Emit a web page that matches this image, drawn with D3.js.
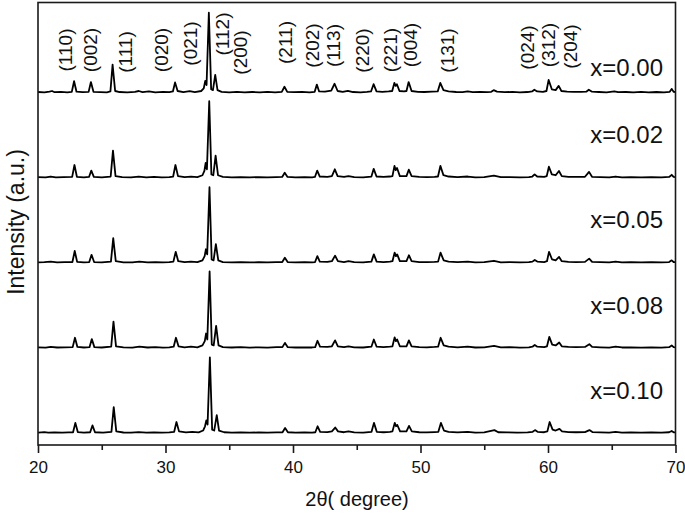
<!DOCTYPE html>
<html><head><meta charset="utf-8">
<script src="https://cdn.jsdelivr.net/npm/d3@7/dist/d3.min.js"></script>
<style>
body{margin:0;background:#fff}
text{font-family:Arial,"Liberation Sans",Helvetica,sans-serif;fill:#111}
</style>
</head><body>
<svg id="chart" width="685" height="514"></svg>
<script>
// ---------------- DATA ----------------
const sampleLabels = ["x=0.00","x=0.02","x=0.05","x=0.08","x=0.10"];
const sampleOffsets = [400,300,200,100,0];   // stacking offset (a.u.)

// XRD patterns, [2θ, intensity a.u.]
const pattern000 = [[20,0.8],[20.5,0.3],[20.9,1.2],[21.1,2],[21.3,0.6],[21.8,0.9],[22.3,0.5],[22.65,1],[22.83,13.5],[23.02,1.2],[23.5,0.6],[23.97,1],[24.15,12.5],[24.35,1],[24.9,0.7],[25.4,0.5],[25.68,1.5],[25.85,33],[26.05,2],[26.4,0.8],[27,0.4],[27.6,1],[27.9,2],[28.2,0.6],[28.7,1.5],[29.2,0.5],[29.8,0.9],[30.3,0.6],[30.58,1.5],[30.75,12],[30.95,2],[31.4,0.8],[31.9,1.8],[32.3,0.7],[32.8,2],[33.0,5],[33.12,14],[33.22,9],[33.4,94],[33.58,4],[33.72,3],[33.9,21],[34.08,3],[34.4,1],[35,0.5],[35.6,0.9],[36.2,0.4],[36.8,0.8],[37.4,0.5],[38,0.9],[38.6,0.4],[39.12,1],[39.33,7],[39.55,1],[40.1,0.6],[40.7,0.9],[41.3,0.5],[41.7,1],[41.87,9.5],[42.05,1.5],[42.5,1.2],[43.0,2.5],[43.26,10.5],[43.5,2],[43.9,1],[44.3,2.2],[44.7,0.8],[45.3,0.5],[45.8,1],[46.12,1.5],[46.32,10],[46.55,1.5],[47.0,1],[47.5,1.5],[47.78,2],[47.95,11.5],[48.05,8],[48.15,10],[48.35,2],[48.7,1.5],[48.9,2],[49.07,12.5],[49.3,2],[49.8,1],[50.3,0.8],[50.9,1.2],[51.35,1.5],[51.55,11.5],[51.8,3],[52.2,1.5],[52.8,0.8],[53.3,0.7],[53.7,1.5],[54.1,0.6],[54.7,0.9],[55.2,0.6],[55.55,1],[55.74,3],[56.0,1.2],[56.6,0.6],[57.2,0.9],[57.8,0.5],[58.4,0.8],[58.75,1.5],[58.93,3.5],[59.15,1.5],[59.6,1],[59.88,2],[60.05,15],[60.3,4],[60.6,3],[60.84,8],[61.05,2],[61.5,1.2],[62.0,1],[62.6,0.9],[63.0,1.2],[63.2,3.5],[63.45,1.2],[64,0.8],[64.6,0.5],[65.2,1.5],[65.5,0.6],[66.1,0.8],[66.7,0.5],[67.3,0.9],[67.9,0.5],[68.5,0.8],[69.1,0.5],[69.55,1],[69.7,4.5],[69.85,1],[70,0.8]];

const pattern002 = [[20,0.7],[20.6,0.4],[21.0,1.5],[21.4,0.5],[22.0,0.8],[22.68,1],[22.86,15],[23.05,1.2],[23.6,0.6],[24.0,1],[24.18,8.5],[24.38,1],[25.0,0.6],[25.7,1.5],[25.88,32],[26.08,2],[26.6,0.7],[27.3,0.5],[27.9,1.5],[28.5,0.6],[29.1,1],[29.7,0.5],[30.3,0.8],[30.6,1.5],[30.78,15],[30.98,2],[31.5,0.8],[32.0,1.5],[32.5,0.8],[32.9,3],[33.05,8],[33.15,17.5],[33.25,10],[33.43,90],[33.6,4],[33.75,3],[33.93,26],[34.12,3],[34.5,1],[35.2,0.6],[35.9,0.9],[36.6,0.5],[37.3,0.8],[38.0,0.5],[38.7,0.9],[39.15,1],[39.35,6],[39.57,1],[40.2,0.6],[40.9,0.8],[41.5,0.6],[41.72,1],[41.9,8.5],[42.1,1.5],[42.7,1.2],[43.05,2],[43.28,10],[43.5,2],[44.0,1],[44.35,2],[44.8,0.8],[45.5,0.6],[46.15,1.5],[46.33,10.5],[46.55,1.5],[47.1,1],[47.6,1.5],[47.8,2],[47.96,14],[48.06,9],[48.16,11.5],[48.38,2],[48.9,2],[49.08,9.5],[49.3,2],[49.9,1],[50.5,0.8],[51.1,1.2],[51.37,1.5],[51.56,14],[51.8,3],[52.2,1.5],[52.9,0.8],[53.7,1.5],[54.3,0.6],[55.0,0.8],[55.75,2.5],[56.3,0.7],[57.0,0.9],[57.8,0.5],[58.5,0.8],[58.77,1.5],[58.95,4],[59.15,1.5],[59.7,1],[59.9,2],[60.07,13],[60.3,4],[60.6,3],[60.86,8],[61.08,2],[61.6,1.2],[62.2,1],[62.9,1.2],[63.22,7],[63.45,1.2],[64.1,0.8],[64.8,0.5],[65.3,1.5],[65.8,0.6],[66.5,0.8],[67.3,0.5],[68.1,0.8],[68.9,0.5],[69.5,1],[69.7,3.5],[69.85,1],[70,0.8]];

const pattern005 = [[20,0.6],[20.5,0.9],[21.0,1.4],[21.5,0.5],[22.1,0.9],[22.7,1],[22.88,14],[23.07,1.2],[23.6,0.5],[24.02,1],[24.2,9.5],[24.4,1],[25.0,0.7],[25.72,1.5],[25.9,29],[26.1,2],[26.7,0.6],[27.4,0.5],[27.95,1.6],[28.6,0.7],[29.2,1],[29.8,0.5],[30.3,0.8],[30.62,1.5],[30.8,13],[31.0,2],[31.5,0.8],[32.0,1.5],[32.5,0.8],[32.9,3],[33.07,8],[33.17,16],[33.27,10],[33.45,89],[33.62,4],[33.77,3],[33.95,22],[34.14,3],[34.5,1],[35.2,0.6],[35.9,0.8],[36.6,0.5],[37.3,0.8],[38.0,0.5],[38.7,0.9],[39.16,1],[39.36,6],[39.58,1],[40.2,0.6],[40.9,0.8],[41.5,0.6],[41.73,1],[41.91,8],[42.1,1.5],[42.7,1.2],[43.05,2],[43.3,8.5],[43.52,2],[44.0,1],[44.35,2],[44.8,0.8],[45.5,0.6],[46.15,1.5],[46.34,10],[46.56,1.5],[47.1,1],[47.6,1.5],[47.8,2],[47.97,12],[48.07,8],[48.17,10],[48.38,2],[48.9,2],[49.09,9],[49.3,2],[49.9,1],[50.5,0.8],[51.1,1.2],[51.38,1.5],[51.57,12],[51.82,3],[52.2,1.5],[52.9,0.8],[53.7,1.5],[54.3,0.6],[55.0,0.8],[55.76,2.5],[56.3,0.7],[57.0,0.9],[57.8,0.5],[58.5,0.8],[58.78,1.5],[58.96,3.5],[59.16,1.5],[59.7,1],[59.92,2],[60.08,13],[60.32,4],[60.6,3],[60.87,7],[61.08,2],[61.6,1.2],[62.2,1],[62.9,1.2],[63.23,5],[63.46,1.2],[64.1,0.8],[64.8,0.5],[65.3,1.5],[65.8,0.6],[66.5,0.8],[67.3,0.5],[68.1,0.8],[68.9,0.5],[69.5,1],[69.7,3],[69.85,1],[70,0.8]];

const pattern008 = [[20,0.7],[20.6,0.4],[21.0,1.3],[21.5,0.6],[22.1,0.8],[22.72,1],[22.9,12],[23.09,1.2],[23.6,0.6],[24.04,1],[24.22,10.5],[24.42,1],[25.0,0.6],[25.74,1.5],[25.92,31],[26.12,2],[26.7,0.7],[27.4,0.5],[27.95,1.5],[28.6,0.6],[29.2,1],[29.8,0.5],[30.3,0.8],[30.64,1.5],[30.82,12],[31.02,2],[31.5,0.8],[32.0,1.5],[32.5,0.8],[32.9,3],[33.08,8],[33.18,17],[33.28,10],[33.46,90],[33.63,4],[33.78,3],[33.97,26],[34.16,3],[34.5,1],[35.2,0.6],[35.9,0.9],[36.6,0.5],[37.3,0.8],[38.0,0.5],[38.7,0.9],[39.17,1],[39.37,6],[39.59,1],[40.2,0.6],[40.9,0.8],[41.5,0.6],[41.74,1],[41.92,8.5],[42.12,1.5],[42.7,1.2],[43.05,2],[43.3,9],[43.52,2],[44.0,1],[44.35,2],[44.8,0.8],[45.5,0.6],[46.15,1.5],[46.34,10],[46.56,1.5],[47.1,1],[47.6,1.5],[47.8,2],[47.97,12.5],[48.07,8],[48.17,10],[48.38,2],[48.9,2],[49.09,9],[49.3,2],[49.9,1],[50.5,0.8],[51.1,1.2],[51.38,1.5],[51.58,12],[51.82,3],[52.2,1.5],[52.9,0.8],[53.7,1.5],[54.3,0.6],[55.0,0.8],[55.77,2.5],[56.3,0.7],[57.0,0.9],[57.8,0.5],[58.5,0.8],[58.78,1.5],[58.96,3.5],[59.16,1.5],[59.7,1],[59.92,2],[60.1,13],[60.33,4],[60.6,3],[60.88,6.5],[61.08,2],[61.6,1.2],[62.2,1],[62.9,1.2],[63.24,4.5],[63.46,1.2],[64.1,0.8],[64.8,0.5],[65.3,1.5],[65.8,0.6],[66.5,0.8],[67.3,0.5],[68.1,0.8],[68.9,0.5],[69.5,1],[69.7,3],[69.85,1],[70,0.8]];

const pattern010 = [[20,0.6],[20.5,1.2],[20.8,0.5],[21.3,0.9],[21.9,0.5],[22.4,0.8],[22.75,1],[22.93,12],[23.12,1.2],[23.6,0.6],[24.09,1],[24.27,9],[24.47,1],[25.1,0.6],[25.76,1.5],[25.94,30.5],[26.14,2],[26.7,0.7],[27.3,0.5],[27.9,1.2],[28.5,0.6],[29.1,0.9],[29.7,0.5],[30.3,0.8],[30.68,1.5],[30.86,13],[31.06,2],[31.6,0.8],[32.1,1.5],[32.6,0.8],[32.95,3],[33.1,8],[33.2,15],[33.3,10],[33.48,89],[33.66,4],[33.82,3],[34.02,21],[34.2,3],[34.6,1],[35.2,0.6],[35.9,0.9],[36.6,0.5],[37.3,0.8],[38.0,0.5],[38.7,0.9],[39.18,1],[39.38,6],[39.6,1],[40.2,0.6],[40.9,0.8],[41.5,0.6],[41.75,1],[41.93,8],[42.13,1.5],[42.7,1.2],[43.05,2],[43.31,6.5],[43.53,2],[44.0,1],[44.35,2],[44.8,0.8],[45.5,0.6],[46.16,1.5],[46.35,12],[46.57,1.5],[47.1,1],[47.6,1.5],[47.8,2],[47.98,12],[48.08,8],[48.18,9.5],[48.4,2],[48.9,2],[49.1,8.5],[49.32,2],[49.9,1],[50.5,0.8],[51.1,1.2],[51.4,1.5],[51.6,12],[51.84,3],[52.2,1.5],[52.9,0.8],[53.7,1.5],[54.3,0.6],[55.0,0.8],[55.8,3.5],[56.1,1],[56.8,0.9],[57.6,0.5],[58.4,0.8],[58.8,1.5],[58.98,3.5],[59.18,1.5],[59.7,1],[59.95,2],[60.13,13],[60.36,4],[60.6,3],[60.9,5],[61.1,2],[61.6,1.2],[62.2,1],[62.9,1.2],[63.25,3.5],[63.48,1.2],[64.1,0.8],[64.8,0.5],[65.3,1.5],[65.8,0.6],[66.5,0.8],[67.3,0.5],[68.1,0.8],[68.9,0.5],[69.5,1],[69.7,2.5],[69.85,1],[70,0.8]];

const patterns = [pattern000, pattern002, pattern005, pattern008, pattern010];

// Miller indices and the 2θ where each label sits
const hklLabels = ["(110)","(002)","(111)","(020)","(021)","(112)","(200)","(211)","(202)","(113)","(220)","(221)","(004)","(131)","(024)","(312)","(204)"];
const hklTheta  = [22.12,24.08,26.83,29.65,31.93,34.44,35.86,39.39,41.51,43.16,45.41,47.63,49.2,52.08,58.36,60.03,61.76];

const xTicksMajor = [20,30,40,50,60,70];
const xTicksMinor = [25,35,45,55,65];
const xTitle = "2θ( degree)";
const yTitle = "Intensity (a.u.)";

// ---------------- LAYOUT ----------------
const M = {left:38, right:675.5, top:2.5, bottom:445};
const hklCenterY = [50,50,52,50,43.5,34,52.5,42.5,45.5,45.5,50.5,50,45,50.5,47.5,45,46.5];
const sampleLabelLift = [20,40.5,40.5,40.5,40.5];

const svg = d3.select("#chart");
const x = d3.scaleLinear().domain([20,70]).range([M.left, M.right]);
const y = d3.scaleLinear().domain([-14,506]).range([M.bottom, M.top]);

const line = d3.line().x(d => x(d[0])).y(d => y(d[1]));

svg.append("g").selectAll("path")
  .data(patterns.map((p,i) => p.map(d => [d[0], d[1] + sampleOffsets[i]])))
  .join("path")
  .attr("d", line)
  .attr("fill","none")
  .attr("stroke","#000")
  .attr("stroke-width",1.8)
  .attr("stroke-linejoin","round");

// frame
svg.append("rect")
  .attr("x", M.left).attr("y", M.top)
  .attr("width", M.right - M.left).attr("height", M.bottom - M.top)
  .attr("fill","none").attr("stroke","#1a1a1a").attr("stroke-width",1.6);

// x axis
const axMaj = svg.append("g").attr("transform",`translate(0,${M.bottom})`)
  .call(d3.axisBottom(x).tickValues(xTicksMajor).tickSize(8).tickPadding(8).tickFormat(d3.format("d")));
axMaj.select(".domain").remove();
axMaj.selectAll("line").attr("stroke","#1a1a1a").attr("stroke-width",1.6);
axMaj.selectAll("text").attr("font-size",17).attr("fill","#111")
  .style("font-family",'Arial,"Liberation Sans",sans-serif');

const axMin = svg.append("g").attr("transform",`translate(0,${M.bottom})`)
  .call(d3.axisBottom(x).tickValues(xTicksMinor).tickSize(5).tickFormat(""));
axMin.select(".domain").remove();
axMin.selectAll("line").attr("stroke","#1a1a1a").attr("stroke-width",1.6);

// titles
svg.append("text").attr("x", 357).attr("y", 506)
  .attr("text-anchor","middle").attr("font-size",20).text(xTitle);
svg.append("text")
  .attr("transform","translate(24,222) rotate(-90)")
  .attr("text-anchor","middle").attr("font-size",23).text(yTitle);

// sample labels
svg.append("g").selectAll("text").data(sampleLabels).join("text")
  .attr("x", 663)
  .attr("y", (d,i) => y(sampleOffsets[i] + sampleLabelLift[i]))
  .attr("text-anchor","end").attr("font-size",24).text(d => d);

// hkl labels
svg.append("g").selectAll("text").data(hklLabels).join("text")
  .attr("transform",(d,i) => `translate(${x(hklTheta[i])},${hklCenterY[i]}) rotate(-90)`)
  .attr("text-anchor","middle").attr("dy","0.36em")
  .attr("font-size",19).text(d => d);
</script>
</body></html>
